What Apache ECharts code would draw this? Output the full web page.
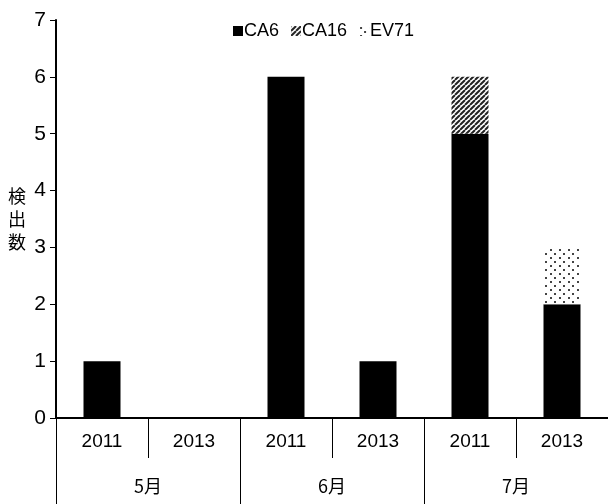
<!DOCTYPE html>
<html>
<head>
<meta charset="utf-8">
<script src="https://cdn.jsdelivr.net/npm/echarts@6/dist/echarts.min.js"></script>
<style>
  html, body { margin: 0; padding: 0; background: #fff; }
  #chart { width: 608px; height: 504px; }
</style>
</head>
<body>
<div id="chart"></div>
<script>
// Detection counts per month and year, stacked by virus type
const years = ['2011', '2013', '2011', '2013', '2011', '2013'];
const months = ['5月', '6月', '7月'];
const ca6 = [1, 0, 6, 1, 5, 2];
const ca16 = [0, 0, 0, 0, 1, 0];
const ev71 = [0, 0, 0, 0, 0, 1];
const yTicks = [0, 7, 1]; // min, max, interval

const FONT = '"Liberation Sans Narrow", "Liberation Sans", sans-serif';
const JP_FONT = '"Noto Sans CJK JP", sans-serif';

// Diagonal hatch fill
function stripePattern() {
  const s = 5;
  const c = document.createElement('canvas');
  c.width = s; c.height = s;
  const g = c.getContext('2d');
  g.fillStyle = '#fff';
  g.fillRect(0, 0, s, s);
  g.strokeStyle = '#222';
  g.lineWidth = 2;
  g.beginPath();
  for (let k = -s; k <= s; k += s) {
    g.moveTo(k, s);
    g.lineTo(k + s, 0);
  }
  g.stroke();
  return c;
}

// Sparse dot fill
function dotPattern() {
  const c = document.createElement('canvas');
  c.width = 9; c.height = 8;
  const g = c.getContext('2d');
  g.fillStyle = '#fff';
  g.fillRect(0, 0, 9, 8);
  g.fillStyle = '#444';
  g.fillRect(1, 1, 2, 2);
  g.fillRect(5, 5, 2, 2);
  return c;
}

const chart = echarts.init(document.getElementById('chart'), null, { renderer: 'canvas' });

chart.setOption({
  animation: false,
  textStyle: { color: '#000', fontFamily: FONT, fontSize: 16 },
  legend: {
    top: 17,
    left: 228,
    itemWidth: 10,
    itemHeight: 10,
    itemGap: 12,
    textStyle: { color: '#000', fontFamily: FONT, fontSize: 18, padding: [0, 0, 0, -4] },
    data: [
      { name: 'CA6', icon: 'rect' },
      { name: 'CA16', icon: 'rect' },
      { name: 'EV71', icon: 'rect' }
    ]
  },
  grid: { left: 56, right: 0, top: 20, bottom: 86, containLabel: false },
  xAxis: [
    {
      type: 'category',
      data: years,
      position: 'bottom',
      axisLine: { show: true, lineStyle: { color: '#000', width: 2 } },
      axisTick: { show: true, length: 40, interval: 0, lineStyle: { color: '#000', width: 1 } },
      axisLabel: { color: '#000', fontFamily: FONT, fontSize: 19, margin: 14, interval: 0 }
    },
    {
      type: 'category',
      data: months,
      position: 'bottom',
      offset: 40,
      axisLine: { show: false },
      axisTick: { show: true, length: 46, interval: 0, lineStyle: { color: '#000', width: 1 } },
      axisLabel: { color: '#000', fontFamily: JP_FONT, fontSize: 18, margin: 19, interval: 0 }
    }
  ],
  yAxis: {
    type: 'value',
    min: yTicks[0],
    max: yTicks[1],
    interval: yTicks[2],
    name: '検\n出\n数',
    nameLocation: 'middle',
    nameRotate: 0,
    nameGap: 30,
    nameTextStyle: { color: '#000', fontFamily: JP_FONT, fontSize: 18, lineHeight: 23 },
    axisLine: { show: true, lineStyle: { color: '#000', width: 2 } },
    axisTick: { show: true, length: 6, lineStyle: { color: '#000', width: 1 } },
    axisLabel: { color: '#000', fontFamily: FONT, fontSize: 21, margin: 10 },
    splitLine: { show: false }
  },
  series: [
    {
      name: 'CA6', type: 'bar', stack: 'total', data: ca6, barWidth: 37,
      xAxisIndex: 0,
      itemStyle: { color: '#000' }
    },
    {
      name: 'CA16', type: 'bar', stack: 'total', data: ca16, barWidth: 37,
      xAxisIndex: 0,
      itemStyle: { color: { image: stripePattern(), repeat: 'repeat' } }
    },
    {
      name: 'EV71', type: 'bar', stack: 'total', data: ev71, barWidth: 37,
      xAxisIndex: 0,
      itemStyle: { color: { image: dotPattern(), repeat: 'repeat' } }
    }
  ]
});
</script>
</body>
</html>
